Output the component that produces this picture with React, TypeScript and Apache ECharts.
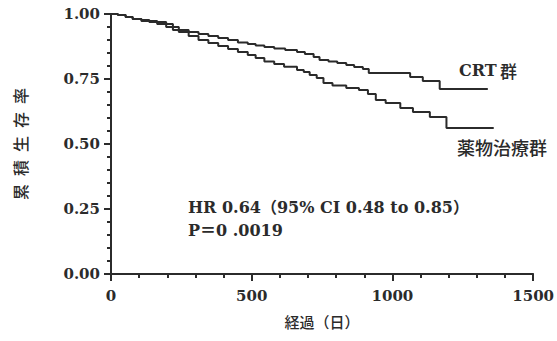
import React, { useEffect, useRef } from "react";
import * as echarts from "echarts";

const xTicks = [0, 500, 1000, 1500];
const yTicks = [0, 0.25, 0.5, 0.75, 1.0];

const crtDays = [0, 24.5, 52, 77, 108, 136, 164, 196, 220, 241, 276, 311, 346, 381, 416, 451, 486, 514, 545, 580, 619, 661, 689, 720, 741, 773, 804, 836, 864, 895, 916, 1063, 1108, 1168, 1339];
const crtSurv = [1.0, 0.996, 0.988, 0.981, 0.977, 0.973, 0.969, 0.962, 0.95, 0.938, 0.931, 0.923, 0.915, 0.908, 0.9, 0.89, 0.885, 0.879, 0.873, 0.867, 0.862, 0.854, 0.846, 0.835, 0.823, 0.817, 0.812, 0.804, 0.796, 0.788, 0.773, 0.758, 0.742, 0.712, 0.712];

const drugDays = [0, 24.5, 52, 77, 108, 136, 164, 196, 220, 241, 276, 311, 346, 381, 416, 451, 486, 514, 545, 580, 615, 661, 685, 706, 731, 755, 787, 836, 881, 913, 941, 976, 1028, 1073, 1133, 1192, 1360];
const drugSurv = [1.0, 0.996, 0.988, 0.981, 0.973, 0.969, 0.962, 0.95, 0.938, 0.931, 0.915, 0.9, 0.888, 0.877, 0.865, 0.854, 0.842, 0.831, 0.817, 0.808, 0.797, 0.785, 0.777, 0.765, 0.754, 0.735, 0.725, 0.715, 0.708, 0.692, 0.669, 0.658, 0.638, 0.623, 0.604, 0.5615, 0.5615];

const crtLabel = "CRT";
const crtLabelCjk = "群";
const drugLabel = "薬物治療群";
const hrText = "HR 0.64（95% CI 0.48 to 0.85）";
const pText = "P＝0 .0019";
const xName = "経過（日）";
const yName = "累\u2002積\u2002生\u2002存\u2002率";

const SERIF = "'DejaVu Serif', 'Noto Sans CJK JP', serif";
const CJK = "'Noto Sans CJK JP', sans-serif";
const INK = "#2b2b2b";

export default function App() {
  const ref = useRef<HTMLDivElement>(null);
  useEffect(() => {
    if (!ref.current) return;
    const chart = echarts.init(ref.current, undefined, { renderer: "svg" });
    const tickStyle = { color: INK, width: 2 };
    chart.setOption({
      animation: false,
      backgroundColor: "#ffffff",
      grid: { left: 111, right: 17, top: 14, bottom: 67 },
      xAxis: {
        type: "value",
        min: xTicks[0],
        max: xTicks[xTicks.length - 1],
        interval: 500,
        name: xName,
        nameLocation: "middle",
        nameGap: 40,
        nameTextStyle: { fontFamily: CJK, fontSize: 15, fontWeight: 500, color: INK },
        axisLine: { show: true, onZero: false, lineStyle: { color: INK, width: 2 } },
        axisTick: { show: true, inside: false, length: 7, lineStyle: tickStyle },
        minorTick: { show: true, splitNumber: 5, length: 4, lineStyle: tickStyle },
        splitLine: { show: false },
        minorSplitLine: { show: false },
        axisLabel: {
          fontFamily: SERIF,
          fontWeight: "bold",
          fontSize: 15,
          color: INK,
          margin: 14,
          formatter: (v: number) => String(v),
        },
      },
      yAxis: {
        type: "value",
        min: yTicks[0],
        max: yTicks[yTicks.length - 1],
        interval: 0.25,
        name: yName,
        nameLocation: "middle",
        nameGap: 83,
        nameRotate: 90,
        nameTextStyle: { fontFamily: CJK, fontSize: 16, fontWeight: 500, color: INK },
        axisLine: { show: true, onZero: false, lineStyle: { color: INK, width: 2 } },
        axisTick: { show: true, inside: false, length: 7, lineStyle: tickStyle },
        minorTick: { show: true, splitNumber: 5, length: 4, lineStyle: tickStyle },
        splitLine: { show: false },
        minorSplitLine: { show: false },
        axisLabel: {
          fontFamily: SERIF,
          fontWeight: "bold",
          fontSize: 15,
          color: INK,
          margin: 11,
          formatter: (v: number) => v.toFixed(2),
        },
      },
      series: [
        {
          name: "CRT群",
          type: "line",
          step: "end",
          showSymbol: false,
          data: crtDays.map((d, i) => [d, crtSurv[i]]),
          lineStyle: { color: INK, width: 2 },
        },
        {
          name: "薬物治療群",
          type: "line",
          step: "end",
          showSymbol: false,
          data: drugDays.map((d, i) => [d, drugSurv[i]]),
          lineStyle: { color: INK, width: 2 },
        },
      ],
      graphic: [
        {
          type: "text",
          left: 459,
          top: 62,
          style: {
            text: `{a|${crtLabel}} {b|${crtLabelCjk}}`,
            rich: {
              a: { fontFamily: SERIF, fontWeight: "bold", fontSize: 16, fill: INK },
              b: { fontFamily: CJK, fontSize: 17, fontWeight: 500, fill: INK },
            },
          },
        },
        {
          type: "text",
          left: 457,
          top: 138,
          style: { text: drugLabel, fontFamily: CJK, fontSize: 18, fontWeight: 500, fill: INK },
        },
        {
          type: "text",
          left: 188,
          top: 199,
          style: { text: hrText, fontFamily: SERIF, fontWeight: "bold", fontSize: 16, fill: INK },
        },
        {
          type: "text",
          left: 188,
          top: 222,
          style: { text: pText, fontFamily: SERIF, fontWeight: "bold", fontSize: 16, fill: INK },
        },
      ],
    });
    return () => chart.dispose();
  }, []);
  return <div ref={ref} style={{ width: 557, height: 341, position: "absolute", left: 0, top: 0 }} />;
}
